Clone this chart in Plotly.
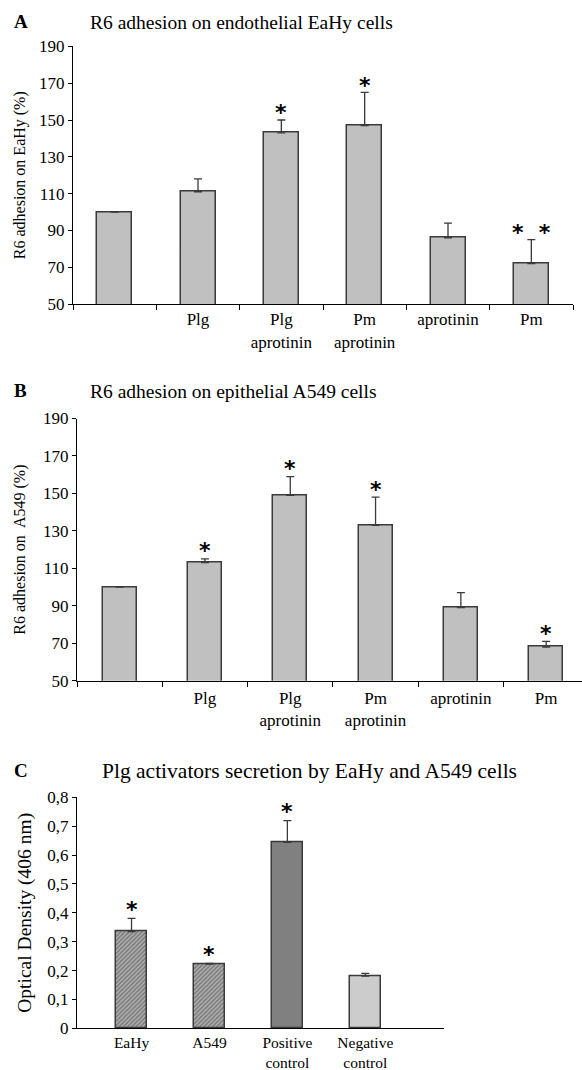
import plotly.graph_objects as go

W, H = 582, 1070

# ---------------- data ----------------
cats_ab = ["Control", "Plg", "Plg aprotinin", "Pm aprotinin", "aprotinin", "Pm"]
tick_ab = ["", "Plg", "Plg<br>aprotinin", "Pm<br>aprotinin", "aprotinin", "Pm"]

a_vals = [100, 111, 143, 147, 86, 72]
a_err_top = [100, 118, 150, 165, 94, 85]
a_stars = ["", "", "*", "*", "", "*\u00a0\u00a0*"]

b_vals = [100, 113, 149, 133, 89, 68]
b_err_top = [100, 115, 159, 148, 97, 71]
b_stars = ["", "*", "*", "*", "", "*"]

ab_ytick_vals = [50, 70, 90, 110, 130, 150, 170, 190]
ab_ytick_text = ["50", "70", "90", "110", "130", "150", "170", "190"]

cats_c = ["EaHy", "A549", "Positive control", "Negative control"]
tick_c = ["EaHy", "A549", "Positive<br>control", "Negative<br>control"]
c_vals = [0.335, 0.222, 0.644, 0.181]
c_err_top = [0.381, 0.225, 0.719, 0.190]
c_stars = ["*", "*", "*", ""]
c_ytick_vals = [0, 0.1, 0.2, 0.3, 0.4, 0.5, 0.6, 0.7, 0.8]
c_ytick_text = ["0", "0,1", "0,2", "0,3", "0,4", "0,5", "0,6", "0,7", "0,8"]

# ---------------- helpers ----------------
FONT = "Liberation Serif"
EDGE = "#3a3a3a"

def px_x(p):
    return p / W

def px_y(p):
    return 1 - p / H

fig = go.Figure()

def add_bars(x_idx, vals, tops, colors, patterns, xa, ya, width):
    plus = [t - v for t, v in zip(tops, vals)]
    fig.add_trace(go.Bar(
        x=x_idx, y=vals, width=width,
        marker=dict(color=colors, line=dict(color=EDGE, width=1.5),
                    pattern=patterns),
        error_y=dict(type="data", symmetric=False, array=plus,
                     arrayminus=[0] * len(vals), color=EDGE,
                     thickness=1.3, width=4),
        xaxis=xa, yaxis=ya, showlegend=False, hoverinfo="skip",
    ))

def add_stars(x_idx, tops, stars, xref, yref, yshift):
    for x, t, s in zip(x_idx, tops, stars):
        if s:
            fig.add_annotation(x=x, y=t, xref=xref, yref=yref,
                               text="<b>%s</b>" % s,
                               showarrow=False, yanchor="middle",
                               yshift=yshift,
                               font=dict(family="DejaVu Sans", size=22,
                                         color="#000000"))

# ---------- Panel A ----------
xa_idx = list(range(len(cats_ab)))
add_bars(xa_idx, a_vals, a_err_top, ["#c0c0c0"] * 6, None, "x", "y", 0.42)
add_stars(xa_idx, a_err_top, a_stars, "x", "y", 7)

# ---------- Panel B ----------
add_bars(xa_idx, b_vals, b_err_top, ["#c0c0c0"] * 6, None, "x2", "y2", 0.40)
add_stars(xa_idx, b_err_top, b_stars, "x2", "y2", 8)

# ---------- Panel C ----------
xc_idx = list(range(len(cats_c)))
c_colors = ["#b0b0b0", "#b0b0b0", "#808080", "#cccccc"]
c_pattern = dict(shape=["/", "/", "", ""], fgcolor="#606060", size=3,
                 solidity=0.5, fillmode="overlay")
add_bars(xc_idx, c_vals, c_err_top, c_colors, c_pattern, "x3", "y3", 0.40)
add_stars(xc_idx, c_err_top, c_stars, "x3", "y3", 9)

axis_common = dict(showline=True, linecolor="black", linewidth=1,
                   showgrid=False, zeroline=False, automargin=False)
tf17 = dict(family=FONT, size=17, color="black")

fig.update_layout(
    xaxis=dict(domain=[px_x(73), px_x(573)], range=[-0.5, 5.5],
               anchor="y", tickmode="array", tickvals=xa_idx, ticktext=tick_ab,
               ticks="", ticklabelstandoff=0, tickfont=tf17,
               minor=dict(ticks="outside", tick0=0.5, dtick=1,
                          ticklen=5, tickcolor="black"),
               **axis_common),
    yaxis=dict(domain=[px_y(304), px_y(46.4)], range=[50, 190], anchor="x",
               tickmode="array", tickvals=ab_ytick_vals, ticktext=ab_ytick_text,
               ticks="outside", ticklen=4, tickcolor="black", tickfont=tf17,
               title=dict(text="R6 adhesion on EaHy (%)", standoff=9,
                          font=dict(family=FONT, size=16, color="black")),
               **axis_common),
    xaxis2=dict(domain=[px_x(77), 1.0], range=[-0.5, 5.42],
                anchor="y2", tickmode="array", tickvals=xa_idx, ticktext=tick_ab,
                ticks="", ticklabelstandoff=2, tickfont=tf17,
                minor=dict(ticks="outside", tick0=0.5, dtick=1,
                           ticklen=5, tickcolor="black"),
                **axis_common),
    yaxis2=dict(domain=[px_y(680.7), px_y(418.5)], range=[50, 190], anchor="x2",
                tickmode="array", tickvals=ab_ytick_vals, ticktext=ab_ytick_text,
                ticks="outside", ticklen=4, tickcolor="black", tickfont=tf17,
                title=dict(text="R6 adhesion on  A549 (%)", standoff=13,
                           font=dict(family=FONT, size=16, color="black")),
                **axis_common),
    xaxis3=dict(domain=[px_x(77), px_x(444)], range=[-0.70, 4.01],
                anchor="y3", tickmode="array", tickvals=xc_idx, ticktext=tick_c,
                ticks="", ticklabelstandoff=0,
                tickfont=dict(family=FONT, size=15.5, color="black"),
                **axis_common),
    yaxis3=dict(domain=[px_y(1028.3), px_y(797.3)], range=[0, 0.8], anchor="x3",
                tickmode="array", tickvals=c_ytick_vals, ticktext=c_ytick_text,
                ticks="outside", ticklen=4, tickcolor="black", tickfont=tf17,
                title=dict(text="Optical Density (406 nm)", standoff=10,
                           font=dict(family=FONT, size=19.5, color="black")),
                **axis_common),
)

# titles and panel letters
titles = [("A", "R6 adhesion on endothelial EaHy cells", 22, 88, 19.5),
          ("B", "R6 adhesion on epithelial A549 cells", 392, 88, 19.5),
          ("C", "Plg activators secretion by EaHy and A549 cells", 771, 100, 21.5)]
for letter, ttl, yp, xp, fs in titles:
    fig.add_annotation(x=px_x(12), y=px_y(yp - 1), xref="paper", yref="paper",
                       text="<b>%s</b>" % letter, showarrow=False,
                       xanchor="left", yanchor="middle",
                       font=dict(family=FONT, size=19, color="black"))
    fig.add_annotation(x=px_x(xp), y=px_y(yp), xref="paper", yref="paper",
                       text=ttl, showarrow=False, xanchor="left", yanchor="middle",
                       font=dict(family=FONT, size=fs, color="black"))

fig.update_layout(width=W, height=H, margin=dict(l=0, r=0, t=0, b=0),
                  plot_bgcolor="white", paper_bgcolor="white", bargap=0)

fig.write_html("out.html")
